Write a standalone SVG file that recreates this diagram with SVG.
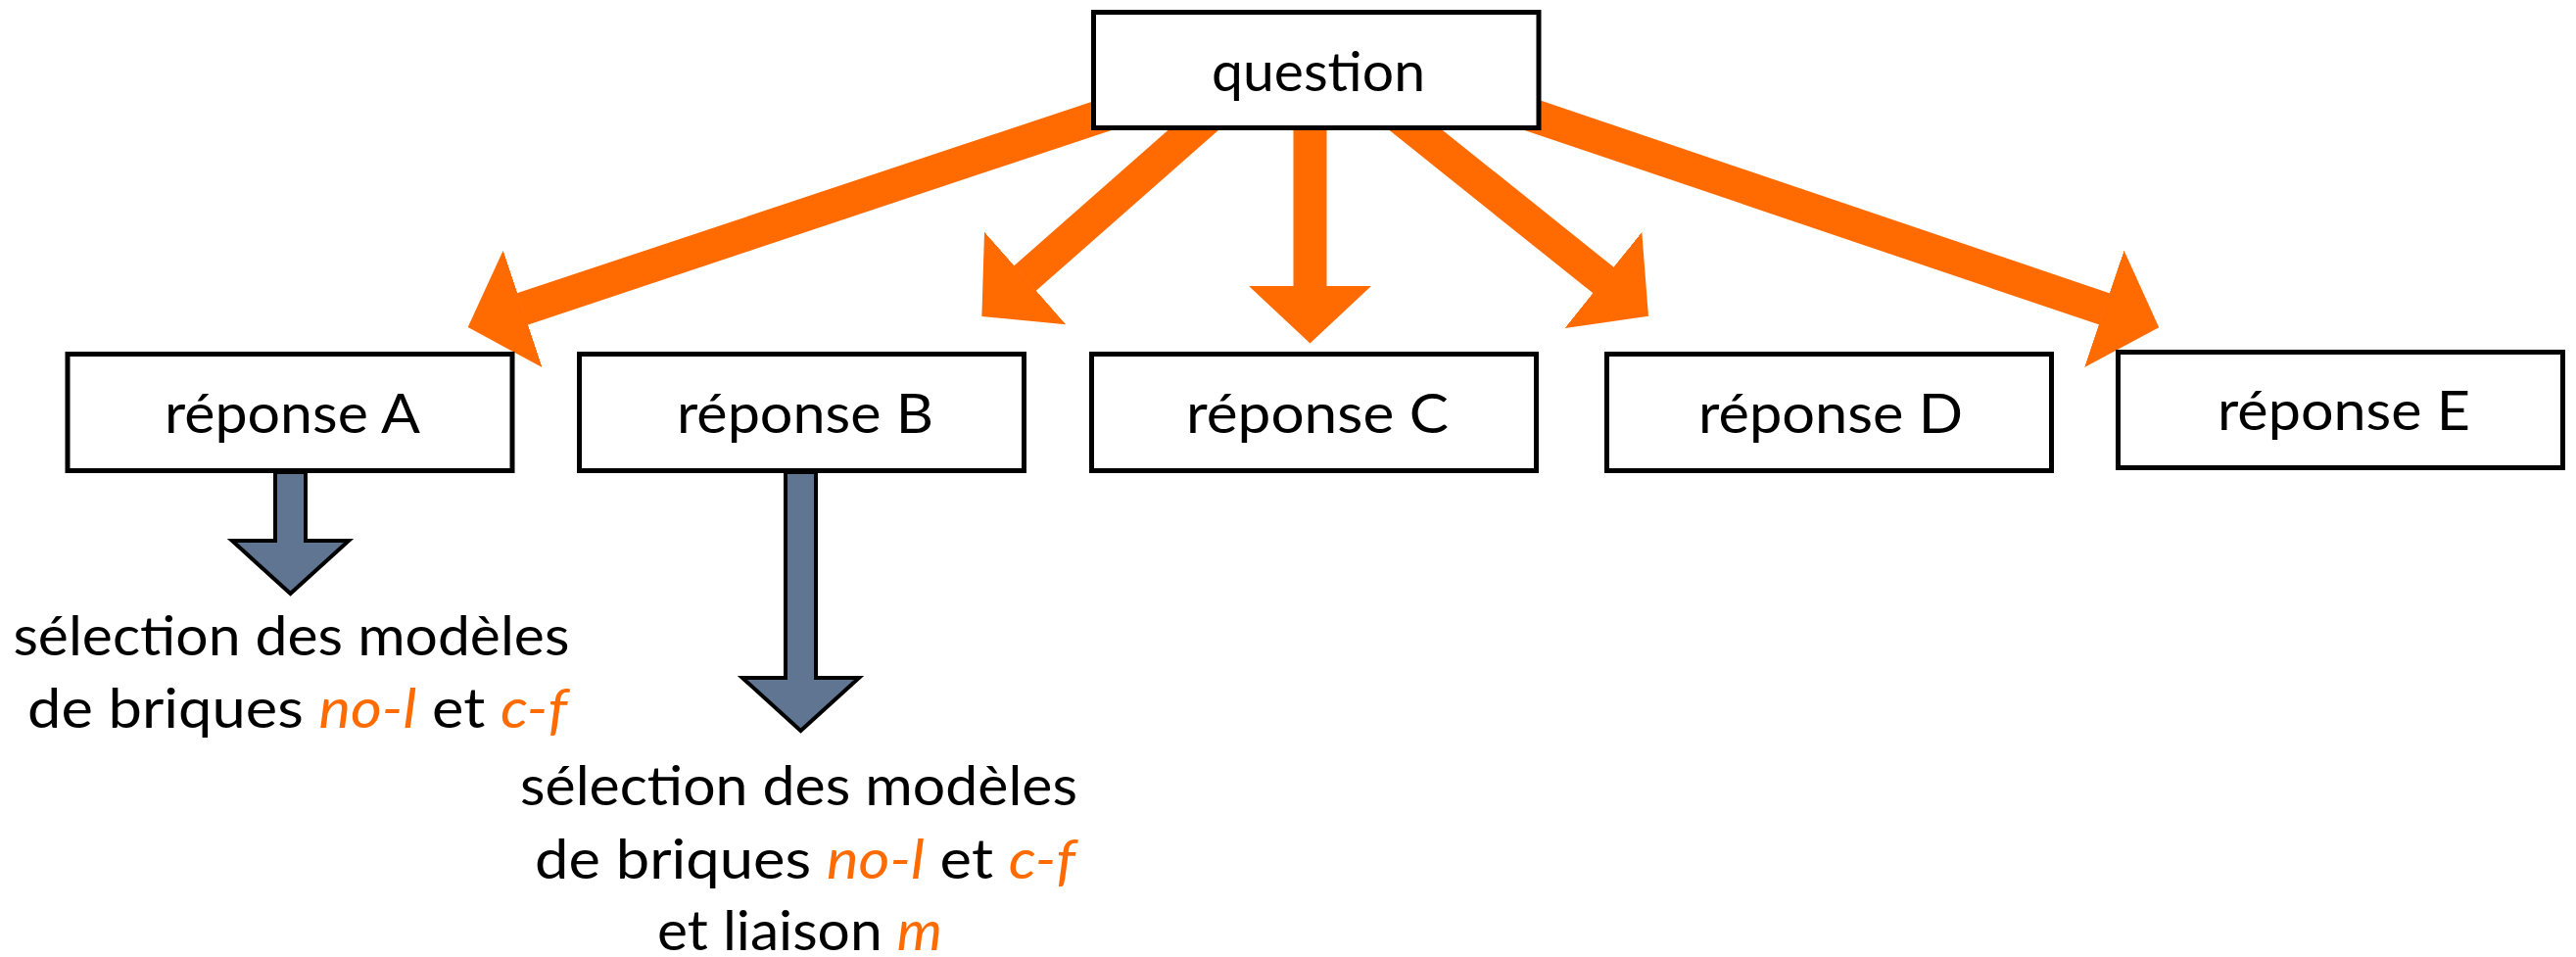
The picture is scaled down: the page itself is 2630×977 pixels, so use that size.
<svg xmlns="http://www.w3.org/2000/svg" width="2630" height="977" viewBox="0 0 2630 977">
<style>
.box{fill:#fff;stroke:#000;stroke-width:5}
.lbl{font-family:Lato,"Open Sans","Liberation Sans",sans-serif;font-size:56px;fill:#000;text-anchor:middle}
.note{font-family:Lato,"Open Sans","Liberation Sans",sans-serif;font-size:57px;fill:#000;text-anchor:middle}
.hl{fill:#FF6B00;font-style:italic}
.conn{stroke:#FF6B00;stroke-width:34;fill:none;marker-end:url(#head)}
.gray{fill:#5F7591;stroke:#000;stroke-width:4;stroke-linejoin:miter}
</style>
<defs>
<marker id="head" markerUnits="userSpaceOnUse" viewBox="0 0 60 126" markerWidth="60" markerHeight="126" refX="0.5" refY="63" orient="auto">
<path d="M0,0 L59,63 L0,126 Z" fill="#FF6B00"/>
</marker>
</defs>
<rect width="2630" height="977" fill="#fff"/>
<g id="connectors">
<line class="conn" x1="1185" y1="98.3" x2="533.2" y2="315.5"/>
<line class="conn" x1="1255.6" y1="100" x2="1046.3" y2="284.3"/>
<line class="conn" x1="1337.5" y1="100" x2="1337.5" y2="292"/>
<line class="conn" x1="1404.5" y1="100" x2="1637.3" y2="286.3"/>
<line class="conn" x1="1490" y1="92.5" x2="2148.8" y2="315.5"/>
<polygon class="gray" points="281,482 312,482 312,552 356,552 296.5,606 237,552 281,552"/>
<polygon class="gray" points="802,482 833,482 833,692 877,692 817.5,746 758,692 802,692"/>
</g>
<g id="question">
<rect class="box" x="1116.5" y="12.5" width="454.5" height="118"/>
<text class="lbl" x="1346" y="93" textLength="218" lengthAdjust="spacingAndGlyphs">question</text>
</g>
<g id="reponseA">
<rect class="box" x="69" y="361.5" width="454" height="119"/>
<text class="lbl" x="298.5" y="441.5" textLength="261" lengthAdjust="spacingAndGlyphs">réponse A</text>
</g>
<g id="reponseB">
<rect class="box" x="591.5" y="361.5" width="454" height="119"/>
<text class="lbl" x="822" y="441.5" textLength="262" lengthAdjust="spacingAndGlyphs">réponse B</text>
</g>
<g id="reponseC">
<rect class="box" x="1114.5" y="361.5" width="454" height="119"/>
<text class="lbl" x="1345" y="441.5" textLength="268" lengthAdjust="spacingAndGlyphs">réponse C</text>
</g>
<g id="reponseD">
<rect class="box" x="1640.5" y="361.5" width="454" height="119"/>
<text class="lbl" x="1869" y="441.5" textLength="270" lengthAdjust="spacingAndGlyphs">réponse D</text>
</g>
<g id="reponseE">
<rect class="box" x="2162.5" y="359.5" width="454" height="118"/>
<text class="lbl" x="2393" y="439" textLength="258" lengthAdjust="spacingAndGlyphs">réponse E</text>
</g>
<g id="noteA">
<text class="note" x="297.4" y="669" textLength="568" lengthAdjust="spacingAndGlyphs">sélection des modèles</text>
<text class="note" x="303.6" y="743" textLength="551" lengthAdjust="spacingAndGlyphs">de briques <tspan class="hl">no-l</tspan> et <tspan class="hl">c-f</tspan></text>
</g>
<g id="noteB">
<text class="note" x="815.5" y="821.5" textLength="569" lengthAdjust="spacingAndGlyphs">sélection des modèles</text>
<text class="note" x="822" y="896.5" textLength="552" lengthAdjust="spacingAndGlyphs">de briques <tspan class="hl">no-l</tspan> et <tspan class="hl">c-f</tspan></text>
<text class="note" x="816.5" y="970" textLength="291" lengthAdjust="spacingAndGlyphs">et liaison <tspan class="hl">m</tspan></text>
</g>
</svg>
